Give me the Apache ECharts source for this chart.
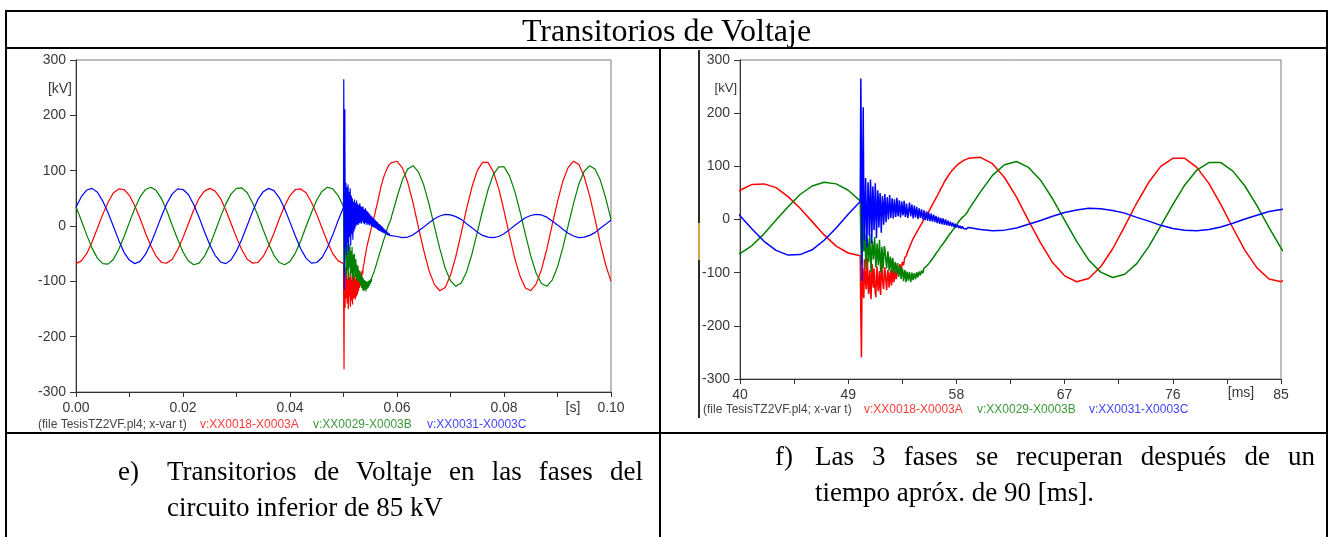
<!DOCTYPE html>
<html>
<head>
<meta charset="utf-8">
<script src="https://cdn.jsdelivr.net/npm/echarts@6/dist/echarts.min.js"></script>
<style>
  html, body { margin:0; padding:0; background:#fff; }
  #wrap { position:relative; width:1333px; height:537px; overflow:hidden; background:#fff; }
  #chart { position:absolute; left:0; top:0; width:1333px; height:537px; }
  .ln { position:absolute; background:#000; z-index:2; }
  .serif { position:absolute; font-family:"Liberation Serif","Times New Roman",serif; color:#000; z-index:3; white-space:nowrap; }
  .just { text-align:justify; text-align-last:justify; }
</style>
</head>
<body>
<div id="wrap">
  <div id="chart"></div>
  <div class="ln" style="left:5px;top:10px;width:1323px;height:2px"></div>
  <div class="ln" style="left:5px;top:10px;width:2px;height:527px"></div>
  <div class="ln" style="left:1326px;top:10px;width:2px;height:527px"></div>
  <div class="ln" style="left:5px;top:47px;width:1323px;height:2px"></div>
  <div class="ln" style="left:659px;top:47px;width:2px;height:490px"></div>
  <div class="ln" style="left:5px;top:432px;width:1323px;height:2px"></div>

  <div class="serif" style="left:0;width:1333px;top:12px;height:36px;line-height:36px;font-size:32px;text-align:center">Transitorios de Voltaje</div>

  <div class="serif" style="left:118px;top:453px;line-height:36px;font-size:27px">e)</div>
  <div class="serif just" style="left:167px;top:453px;width:476px;line-height:36px;font-size:27px">Transitorios de Voltaje en las fases del</div>
  <div class="serif" style="left:167px;top:489px;line-height:36px;font-size:27px">circuito inferior de 85 kV</div>

  <div class="serif" style="left:775px;top:438px;line-height:36px;font-size:27px">f)</div>
  <div class="serif just" style="left:815px;top:438px;width:500px;line-height:36px;font-size:27px">Las 3 fases se recuperan después de un</div>
  <div class="serif" style="left:815px;top:474px;line-height:36px;font-size:27px">tiempo apróx. de 90 [ms].</div>
</div>
<script>
// ---- time samples (ms) ----
const tPre = [0,1,2,3,4,5,6,7,8,9,10,11,12,13,14,15,16,17,18,19,20,21,22,23,24,25,26,27,28,29,30,31,32,33,34,35,36,37,38,39,40,41,42,43,44,45,46,47,48,49,50];
const tFaultA = [50.05,50.10,50.15,50.20,50.25,50.30,50.35,50.40,50.45,50.50,50.55,50.60,50.65,50.70,50.75,50.80,50.85,50.90,50.95,51.00,
  51.05,51.10,51.15,51.20,51.25,51.30,51.35,51.40,51.45,51.50,51.55,51.60,51.65,51.70,51.75,51.80,51.85,51.90,51.95,52.00,
  52.05,52.10,52.15,52.20,52.25,52.30,52.35,52.40,52.45,52.50,52.55,52.60,52.65,52.70,52.75,52.80,52.85,52.90,52.95,53.00,
  53.05,53.10,53.15,53.20,53.25,53.30,53.35,53.40,53.45,53.50,53.55,53.60,53.65,53.70,53.75,53.80,53.85,53.90,53.95,54.00];
const tFaultB = [54.1,54.2,54.3,54.4,54.5,54.6,54.7,54.8,54.9,55.0,55.1,55.2,55.3,55.4,55.5,55.6,55.7,55.8,55.9,56.0,
  56.1,56.2,56.3,56.4,56.5,56.6,56.7,56.8,56.9,57.0,57.1,57.2,57.3,57.4,57.5,57.6,57.7,57.8,57.9,58.0,
  58.1,58.2,58.3,58.4,58.5,58.6,58.7,58.8,58.9];
const tPost = [59,60,61,62,63,64,65,66,67,68,69,70,71,72,73,74,75,76,77,78,79,80,81,82,83,84,85,86,87,88,89,90,91,92,93,94,95,96,97,98,99,100];

// ---- phase A (red) kV ----
const redPre = [-68,-63,-50,-29,-4,21,43,60,67,66,55,36,13,-13,-36,-55,-66,-67,-60,-43,-21,4,29,50,63,68,63,50,29,4,-21,-43,-60,-67,-66,-55,-36,-13,13,36,55,66,67,60,43,21,-4,-29,-50,-63,-68];
const redFaultA = [-180,-259,-120,-92,-140,-148,-75,-78,-120,-131,-88,-72,-125,-140,-110,-95,-135,-150,-100,-84,
  -118,-128,-92,-90,-138,-146,-105,-88,-120,-135,-112,-97,-130,-142,-101,-82,-110,-124,-131,-100,
  -90,-92,-120,-133,-110,-95,-104,-128,-118,-100,-96,-124,-115,-93,-101,-118,-111,-97,-99,-112,
  -104,-90,-95,-103,-96,-84,-87,-96,-88,-80,-81,-86,-79,-72,-70,-75,-68,-63,-60,-62];
const redFaultB = [-52,-50,-41,-36,-34,-28,-27,-20,-19,-12,
  -11,-4,-3,5,5,12,13,19,22,28,
  30,36,40,44,49,53,58,62,66,71,
  74,78,81,85,88,91,94,96,99,101,
  103,105,107,108,110,111,112,113,114];
const redPost = [115,117,105,79,42,-2,-44,-81,-106,-117,-111,-89,-55,-13,31,70,100,115,115,98,68,28,-16,-58,-91,-112,-117,-105,-79,-42,2,44,81,106,117,111,89,55,13,-31,-70,-100];

// ---- phase B (green) kV ----
const greenPre = [35,10,-16,-40,-58,-68,-69,-60,-42,-19,7,32,53,66,70,64,49,27,1,-24,-47,-63,-70,-67,-55,-35,-10,16,40,58,68,69,60,42,19,-7,-32,-53,-66,-70,-64,-49,-27,-1,24,47,63,70,67,55,35];
const greenFaultA = [-40,-85,60,111,-20,-60,-25,-30,-75,-92,-50,-35,-60,-80,-45,-28,-70,-98,-65,-40,
  -52,-75,-58,-33,-62,-90,-70,-45,-60,-86,-72,-38,-66,-100,-80,-52,-64,-92,-78,-50,
  -55,-58,-80,-92,-75,-60,-72,-96,-88,-70,-78,-98,-90,-72,-82,-101,-95,-80,-86,-102,
  -96,-82,-90,-108,-100,-88,-94,-112,-104,-92,-98,-116,-108,-95,-100,-118,-110,-98,-104,-115];
const greenFaultB = [-99,-118,-100,-114,-101,-112,-99,-109,-98,-105,
  -96,-101,-92,-95,-88,-90,-83,-83,-77,-76,
  -71,-70,-64,-63,-58,-56,-51,-50,-45,-43,
  -39,-36,-32,-30,-26,-23,-20,-17,-14,-11,
  -7,-5,-1,1,4,6,8,11,13];
const greenPost = [18,52,83,103,109,98,74,39,-1,-41,-76,-99,-109,-103,-83,-51,-12,28,65,93,107,107,91,63,26,-15,-54,-85,-104,-109,-98,-74,-39,1,41,76,99,109,103,83,51,12];

// ---- phase C (blue) kV ----
const bluePre = [34,53,65,68,61,45,24,-1,-26,-48,-62,-68,-64,-51,-31,-7,18,41,58,67,66,57,39,16,-10,-34,-53,-65,-68,-61,-45,-24,1,26,48,62,68,64,51,31,7,-18,-41,-58,-67,-66,-57,-39,-16,10,34];
const blueFaultA = [265,120,-115,60,211,20,-40,30,78,10,-52,15,70,40,-30,5,75,45,-45,0,
  62,35,-20,10,68,30,-35,5,55,40,-15,12,50,28,-25,8,44,30,-10,15,
  48,25,-5,18,42,20,0,22,46,24,3,20,40,26,2,18,38,25,5,16,
  41,24,6,17,36,22,4,15,34,23,8,14,35,20,5,12,30,19,3,10];
const blueFaultB = [32,6,28,2,26,4,24,1,21,3,
  19,0,17,-1,15,-2,13,-3,11,-4,
  9,-5,7,-7,5,-8,3,-9,2,-10,
  0,-11,-2,-12,-4,-13,-6,-14,-8,-15,
  -10,-16,-12,-17,-13,-17,-14,-18,-15];
const bluePost = [-15,-19,-21,-20,-16,-9,-2,6,13,18,21,20,17,12,4,-3,-11,-17,-20,-21,-19,-14,-7,1,8,15,19,21,20,16,9,2,-6,-13,-18,-21,-20,-17,-12,-4,3,11];

// ---- axis ticks / labels ----
const yTicks = [-300,-200,-100,0,100,200,300];
const leftX = { min:0, max:100, step:20 };     // ms, labelled in s
const rightX = { min:40, max:85, step:9 };      // ms
const legendNames = ['v:XX0018-X0003A','v:XX0029-X0003B','v:XX0031-X0003C'];
const fileText = '(file TesisTZ2VF.pl4; x-var t)';

const T = tPre.concat(tFaultA, tFaultB, tPost);
function pairs(a,b,c,d){ const v=a.concat(b,c,d); return T.map((t,i)=>[t, v[i]]); }
const dRed = pairs(redPre, redFaultA, redFaultB, redPost);
const dGreen = pairs(greenPre, greenFaultA, greenFaultB, greenPost);
const dBlue = pairs(bluePre, blueFaultA, blueFaultB, bluePost);

const SANS = '"Liberation Sans", Arial, sans-serif';
const LBL = '#383838';
const COLS = ['#ff0000','#008000','#0000ff'];
const TXTCOLS = ['#ff3b3b','#3c9a3c','#4444ff'];

function xAxisCfg(g, r, fs, fmt){
  return { type:'value', gridIndex:g, min:r.min, max:r.max, interval:r.step,
    axisLine:{show:true, onZero:false, lineStyle:{color:'#333', width:1}},
    axisTick:{show:true, length:5, lineStyle:{color:'#333'}},
    minorTick:{show:true, splitNumber:2, length:5, lineStyle:{color:'#333'}},
    splitLine:{show:false}, minorSplitLine:{show:false},
    axisLabel:{color:LBL, fontSize:fs, fontFamily:SANS, margin:9, formatter:fmt}
  };
}
function yAxisCfg(g, fs){
  return { type:'value', gridIndex:g, min:yTicks[0], max:yTicks[yTicks.length-1], interval:100,
    axisLine:{show:true, onZero:false, lineStyle:{color:'#333', width:1}},
    axisTick:{show:true, length:6, lineStyle:{color:'#333'}},
    splitLine:{show:false},
    axisLabel:{color:LBL, fontSize:fs, fontFamily:SANS, margin:10}
  };
}
function ser(data, col, xi, w){
  return { type:'line', xAxisIndex:xi, yAxisIndex:xi, data:data, showSymbol:false, symbol:'none',
    lineStyle:{color:col, width:w}, itemStyle:{color:col}, clip:true, silent:true, animation:false };
}
function txt(x,y,s,col,fs,align){
  return { type:'text', x:x, y:y, z:10, silent:true,
    style:{ text:s, fill:col, font:fs+'px '+SANS, textAlign:align||'left', textVerticalAlign:'middle' } };
}

const chart = echarts.init(document.getElementById('chart'), null, {renderer:'canvas'});
chart.setOption({
  animation:false,
  backgroundColor:'transparent',
  grid:[
    {left:76, top:60, width:535, height:332, show:true, borderColor:'#7a7a7a', borderWidth:1, backgroundColor:'#fff'},
    {left:740, top:60, width:541, height:319, show:true, borderColor:'#7a7a7a', borderWidth:1, backgroundColor:'#fff'}
  ],
  xAxis:[
    xAxisCfg(0, leftX, 14, v => (v/1000).toFixed(2)),
    xAxisCfg(1, rightX, 14, v => String(v))
  ],
  yAxis:[ yAxisCfg(0, 14), yAxisCfg(1, 14) ],
  series:[
    ser(dRed, COLS[0], 0, 1.2), ser(dGreen, COLS[1], 0, 1.2), ser(dBlue, COLS[2], 0, 1.2),
    ser(dRed, COLS[0], 1, 1.5), ser(dGreen, COLS[1], 1, 1.5), ser(dBlue, COLS[2], 1, 1.5)
  ],
  graphic:[
    txt(72, 89, '[kV]', LBL, 14, 'right'),
    txt(573, 408, '[s]', LBL, 14, 'center'),
    txt(38, 425, fileText, '#444', 12),
    txt(200, 425, legendNames[0], TXTCOLS[0], 12),
    txt(313, 425, legendNames[1], TXTCOLS[1], 12),
    txt(427, 425, legendNames[2], TXTCOLS[2], 12),
    txt(737, 88, '[kV]', LBL, 13, 'right'),
    txt(1241, 393, '[ms]', LBL, 14, 'center'),
    txt(703, 410, fileText, '#444', 12),
    txt(864, 410, legendNames[0], TXTCOLS[0], 12),
    txt(977, 410, legendNames[1], TXTCOLS[1], 12),
    txt(1089, 410, legendNames[2], TXTCOLS[2], 12),
    { type:'rect', shape:{x:698, y:50, width:2, height:368}, style:{fill:'#2b2b2b'}, silent:true, z:5 },
    { type:'rect', shape:{x:698, y:223, width:2, height:37}, style:{fill:'#c9a44c'}, silent:true, z:6 }
  ]
});
</script>
</body>
</html>
